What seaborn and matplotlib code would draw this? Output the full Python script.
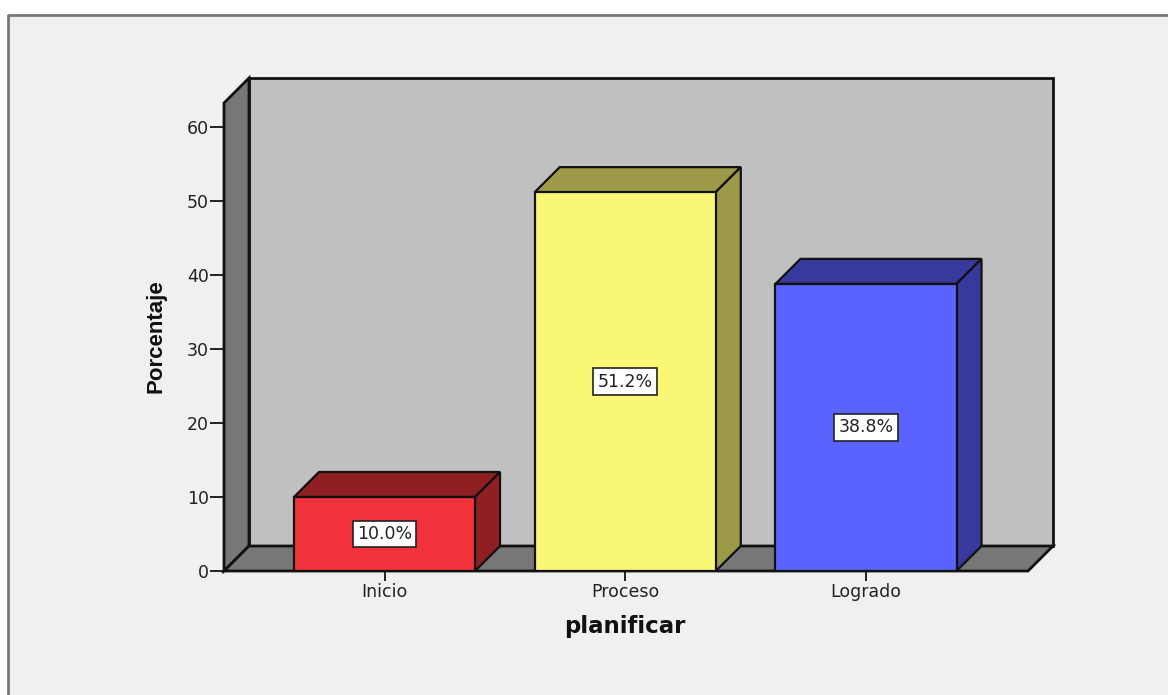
import matplotlib
matplotlib.use('Agg')
import matplotlib.pyplot as plt
from matplotlib.patches import Polygon, Rectangle
import pandas as pd
import seaborn as sns

categories = ['Inicio', 'Proceso', 'Logrado']
values = [10.0, 51.2, 38.8]
labels = ['10.0%', '51.2%', '38.8%']
front_colors = ['#f2333b', '#fbf776', '#5a62ff']
side_colors = ['#8f1f23', '#9c9a48', '#373a9c']
y_ticks = [0, 10, 20, 30, 40, 50, 60]

W, H = 1168, 695
EDGE = '#111111'

sns.set_theme(style='white')
plt.rcParams['font.family'] = ['DejaVu Sans']

fig = plt.figure(figsize=(W / 100, H / 100), dpi=100, facecolor='white')

# panel background with the grey frame on top and left only
fig.add_artist(Rectangle((8 / W, 0), 1 - 8 / W, 1 - 15 / H, transform=fig.transFigure,
                         facecolor='#f0f0f0', edgecolor='none', zorder=-2))
fig.add_artist(plt.Line2D([8 / W, 8 / W, 1], [0, 1 - 15 / H, 1 - 15 / H],
                          transform=fig.transFigure, color='#777777', lw=2, zorder=-1))

# front plane of the chart, in pixels
left, right, bottom, top = 224, 1028, 571, 103
ax = fig.add_axes([left / W, 1 - bottom / H, (right - left) / W, (bottom - top) / H])
ax.patch.set_alpha(0)

df = pd.DataFrame({'cat': categories, 'val': values})
sns.barplot(data=df, x='cat', y='val', hue='cat', palette=front_colors, legend=False,
            width=0.752, edgecolor=EDGE, linewidth=1.6, saturation=1, ax=ax, zorder=3)

step = 240.75
ax.set_xlim((left - 384.5) / step, (right - 384.5) / step)
ax.set_ylim(0, (bottom - top) / 7.4)
dx, dy = 25 / step, 25 / 7.4
x0, x1 = ax.get_xlim()
y0, y1 = ax.get_ylim()

# back wall, side wall, floor
ax.add_patch(Rectangle((x0 + dx, y0 + dy), x1 - x0, y1 - y0, facecolor='#c0c0c0',
                       edgecolor=EDGE, lw=2, clip_on=False, zorder=0.5))
ax.add_patch(Polygon([(x0, y0), (x0 + dx, y0 + dy), (x0 + dx, y1 + dy), (x0, y1)],
                     facecolor='#777777', edgecolor=EDGE, lw=2, clip_on=False, zorder=0.6))
ax.add_patch(Polygon([(x0, y0), (x1, y0), (x1 + dx, y0 + dy), (x0 + dx, y0 + dy)],
                     facecolor='#777777', edgecolor=EDGE, lw=2, clip_on=False, zorder=0.6))

# top and side faces built from the bars seaborn drew
bars = [b for c in ax.containers for b in c]
for bar, side, lab in zip(bars, side_colors, labels):
    bx0, bx1 = bar.get_x(), bar.get_x() + bar.get_width()
    h = bar.get_height()
    ax.add_patch(Polygon([(bx0, h), (bx1, h), (bx1 + dx, h + dy), (bx0 + dx, h + dy)],
                         facecolor=side, edgecolor=EDGE, lw=1.6, zorder=2.5))
    ax.add_patch(Polygon([(bx1, 0), (bx1 + dx, dy), (bx1 + dx, h + dy), (bx1, h)],
                         facecolor=side, edgecolor=EDGE, lw=1.6, zorder=2.5))
    ax.text(bx0 + bar.get_width() / 2, h / 2, lab, ha='center', va='center', fontsize=12.5,
            color='#222222', zorder=5,
            bbox=dict(boxstyle='square,pad=0.25', facecolor='white', edgecolor='#222222', lw=1.2))

for s in ['top', 'right', 'left', 'bottom']:
    ax.spines[s].set_visible(False)

ax.set_yticks(y_ticks)
ax.tick_params(axis='y', left=True, length=10, width=1.4, color='#222222',
               labelsize=12.5, labelcolor='#222222', pad=1)
ax.tick_params(axis='x', bottom=True, length=7, width=1.4, color='#222222',
               labelsize=12.5, labelcolor='#222222', pad=1.5)
ax.set_xlabel('')
ax.set_ylabel('')

fig.text(625 / W, 1 - 627 / H, 'planificar', ha='center', va='center', fontsize=16.5,
         fontweight='bold', color='#111111')
fig.text(156 / W, 1 - 336 / H, 'Porcentaje', ha='center', va='center', rotation=90,
         fontsize=16, fontweight='bold', family='Liberation Sans', color='#111111')

fig.savefig('out.png', dpi=100)
